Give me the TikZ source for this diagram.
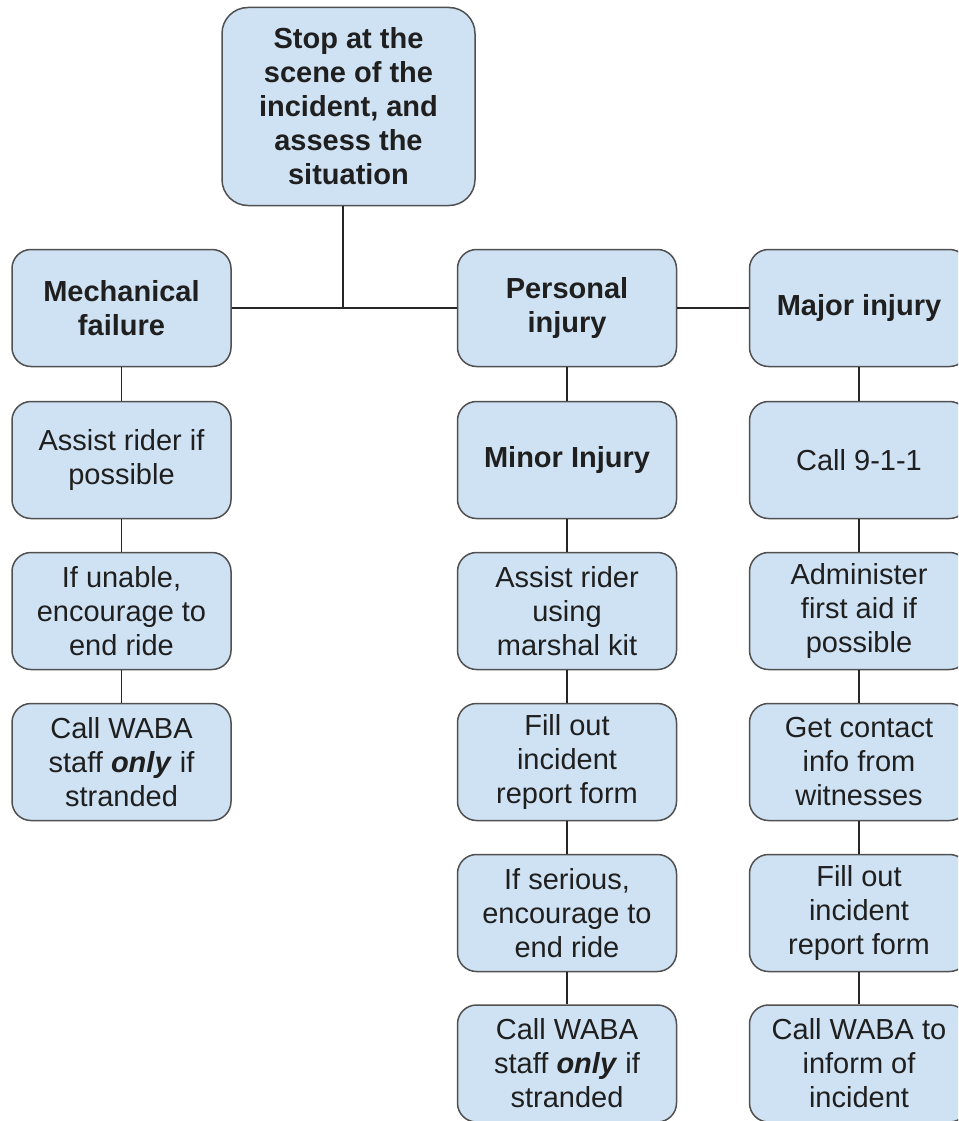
\documentclass[tikz,border=0pt]{standalone}
\usepackage{fontspec}
\setmainfont{Liberation Sans}
\definecolor{boxfill}{HTML}{CFE2F3}
\definecolor{boxline}{HTML}{505050}
\definecolor{txt}{HTML}{1F1F1F}
\begin{document}
\begin{tikzpicture}[x=1pt,y=-1pt,
  stepbox/.style={draw=boxline, fill=boxfill, line width=1.5pt, rounded corners=19pt,
    minimum width=219pt, minimum height=117pt, align=center, inner sep=0pt,
    text=txt, font=\fontsize{29}{34}\selectfont},
  headbox/.style={stepbox, font=\fontsize{29}{34}\selectfont\bfseries},
  link/.style={draw=black!85, line width=1.5pt}]
\useasboundingbox (0,0) rectangle (958,1121);
\clip (0,0) rectangle (958,1121);
% top
\node[headbox, minimum width=253pt, minimum height=198pt, rounded corners=26pt] (top) at (348.5,106.5)
  {Stop at the\\scene of the\\incident, and\\assess the\\situation};
% column M
\node[headbox] (M1) at (121.5,308) {Mechanical\\failure};
\node[stepbox] (M2) at (121.5,460) {Assist rider if\\possible};
\node[stepbox] (M3) at (121.5,611) {If unable,\\encourage to\\end ride};
\node[stepbox] (M4) at (121.5,762) {Call WABA\\staff \textbf{\textit{only}} if\\stranded};
% column P
\node[headbox] (P1) at (567,308) {Personal\\injury};
\node[headbox] (P2) at (567,460) {Minor Injury};
\node[stepbox] (P3) at (567,611) {Assist rider\\using\\marshal kit};
\node[stepbox] (P4) at (567,762) {Fill out\\incident\\report form};
\node[stepbox] (P5) at (567,913) {If serious,\\encourage to\\end ride};
\node[stepbox] (P6) at (567,1063.5) {Call WABA\\staff \textbf{\textit{only}} if\\stranded};
% column J
\node[headbox] (J1) at (859,308) {Major injury};
\node[stepbox] (J2) at (859,460) {Call 9-1-1};
\node[stepbox] (J3) at (859,611) {Administer\\first aid if\\possible};
\node[stepbox] (J4) at (859,762) {Get contact\\info from\\witnesses};
\node[stepbox] (J5) at (859,913) {Fill out\\incident\\report form};
\node[stepbox] (J6) at (859,1063.5) {Call WABA to\\inform of\\incident};
% connectors
\coordinate (junc) at (343,308);
\draw[link] (top.south -| junc) -- (junc);
\draw[link] (M1.east) -- (P1.west);
\draw[link] (P1.east) -- (J1.west);
\foreach \a/\b in {M1/M2,M2/M3,M3/M4,P1/P2,P2/P3,P3/P4,P4/P5,P5/P6,J1/J2,J2/J3,J3/J4,J4/J5,J5/J6}
  \draw[link] (\a.south) -- (\b.north);
\end{tikzpicture}
\end{document}
